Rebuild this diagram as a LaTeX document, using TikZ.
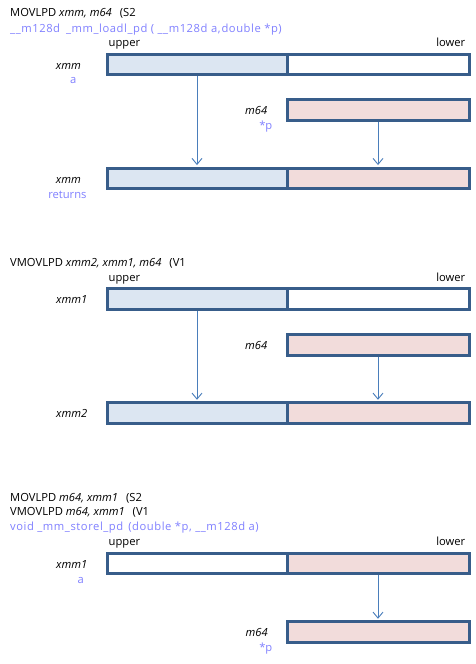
\documentclass[tikz,border=0pt]{standalone}
\usepackage{fontspec}
\setmainfont{Open Sans}
\newfontfamily\spacedfont{Open Sans}[LetterSpace=5]
\usetikzlibrary{arrows.meta}
\definecolor{boxc}{RGB}{56,93,138}
\definecolor{bluef}{RGB}{220,230,242}
\definecolor{pinkf}{RGB}{242,220,219}
\definecolor{arrc}{RGB}{74,126,187}
\definecolor{purp}{RGB}{128,128,255}
\tikzset{
  half/.style={rectangle, draw=boxc, line width=3pt, minimum height=20.5pt, inner sep=0pt},
  upperhalf/.style={half, minimum width=180pt},
  lowerhalf/.style={half, minimum width=182pt},
  arr/.style={draw=arrc, line width=0.9pt, -{Straight Barb[length=6pt,width=10pt]}, shorten >=1.5pt},
  txt/.style={inner sep=0pt, font=\fontsize{11.2}{13}\selectfont},
  lbl/.style={txt, font=\fontsize{11.2}{13}\selectfont\itshape},
  intr/.style={txt, text=purp},
  intrw/.style={txt, text=purp, font=\fontsize{11.2}{13}\spacedfont},
}
\begin{document}
\begin{tikzpicture}[x=1pt, y=-1pt]
\useasboundingbox[fill=white] (0,0) rectangle (476,664);

% ---------- Section 1 ----------
\node[txt, anchor=base west] (t1) at (10,16.7) {MOVLPD \textit{xmm, m64}\hspace{8pt}(S2};
\node[intrw, anchor=base west] (i1) at (10,32.5) {\_\_m128d\hspace{6pt}\_mm\_loadl\_pd ( \_\_m128d a,\hspace{1pt}double *p)};
\node[txt, anchor=base west] (u1) at (108.5,46.7) {upper};
\node[txt, anchor=base east] (l1) at (465.5,46.7) {lower};

\node[upperhalf, fill=bluef] (a1u) at (197,64.7) {};
\node[lowerhalf, fill=white] (a1l) at (378,64.7) {};
\node[lbl, anchor=base east] (xa1) at (81,69.3) {xmm};
\node[intr, anchor=base east] (va1) at (76.5,83.3) {a};

\node[lowerhalf, fill=pinkf] (m1) at (378,110) {};
\node[lbl, anchor=base east] (xm1) at (267.5,114.5) {m64};
\node[intr, anchor=base east] (vm1) at (272.5,129) {*p};

\node[upperhalf, fill=bluef] (r1u) at (197,178.3) {};
\node[lowerhalf, fill=pinkf] (r1l) at (378,178.3) {};
\node[lbl, anchor=base east] (xr1) at (81,183.3) {xmm};
\node[intr, anchor=base east] (vr1) at (86.7,198.3) {returns};

\draw[arr] (a1u.south) -- (r1u.north);
\draw[arr] (m1.south) -- (r1l.north);

% ---------- Section 2 ----------
\node[txt, anchor=base west] (t2) at (10,266.7) {VMOVLPD \textit{xmm2, xmm1, m64}\hspace{8pt}(V1};
\node[txt, anchor=base west] (u2) at (108.5,281.7) {upper};
\node[txt, anchor=base east] (l2) at (465.5,281.7) {lower};

\node[upperhalf, fill=bluef] (a2u) at (197,299) {};
\node[lowerhalf, fill=white] (a2l) at (378,299) {};
\node[lbl, anchor=base east] (xa2) at (87.5,303.3) {xmm1};

\node[lowerhalf, fill=pinkf] (m2) at (378,345) {};
\node[lbl, anchor=base east] (xm2) at (267.5,349.3) {m64};

\node[upperhalf, fill=bluef] (r2u) at (197,413) {};
\node[lowerhalf, fill=pinkf] (r2l) at (378,413) {};
\node[lbl, anchor=base east] (xr2) at (87.5,417.7) {xmm2};

\draw[arr] (a2u.south) -- (r2u.north);
\draw[arr] (m2.south) -- (r2l.north);

% ---------- Section 3 ----------
\node[txt, anchor=base west] (t3a) at (10,501) {MOVLPD \textit{m64, xmm1}\hspace{8pt}(S2};
\node[txt, anchor=base west] (t3b) at (10,515) {VMOVLPD \textit{m64, xmm1}\hspace{8pt}(V1};
\node[intrw, anchor=base west] (i3) at (10,530.7) {void \_mm\_storel\_pd\hspace{5pt}(double *p, \_\_m128d a)};
\node[txt, anchor=base west] (u3) at (108.5,545.7) {upper};
\node[txt, anchor=base east] (l3) at (465.5,545.7) {lower};

\node[upperhalf, fill=white] (a3u) at (197,563.7) {};
\node[lowerhalf, fill=pinkf] (a3l) at (378,563.7) {};
\node[lbl, anchor=base east] (xa3) at (87.5,568.3) {xmm1};
\node[intr, anchor=base east] (va3) at (84,583.3) {a};

\node[lowerhalf, fill=pinkf] (m3) at (378,632) {};
\node[lbl, anchor=base east] (xm3) at (268,636.7) {m64};
\node[intr, anchor=base east] (vm3) at (272.5,651.5) {*p};

\draw[arr] (a3l.south) -- (m3.north);
\end{tikzpicture}
\end{document}
